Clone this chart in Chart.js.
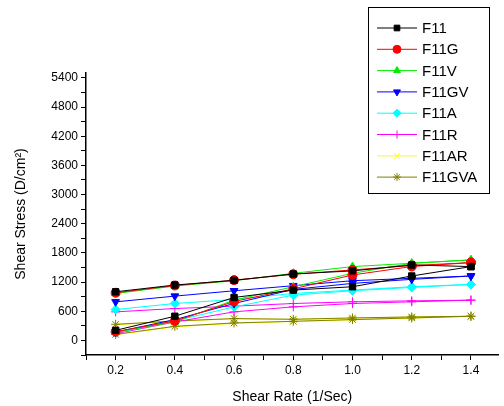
<!DOCTYPE html>
<html>
<head>
<meta charset="utf-8">
<script src="https://cdn.jsdelivr.net/npm/chart.js@4/dist/chart.umd.min.js"></script>
<style>
  html, body { margin: 0; padding: 0; background: #fff; }
  #wrap { width: 504px; height: 406px; }
</style>
</head>
<body>
<div id="wrap"><canvas id="rheo" width="504" height="406"></canvas></div>
<script>
const shearRate = [0.2, 0.4, 0.6, 0.8, 1.0, 1.2, 1.4];
const seriesNames = ["F11", "F11G", "F11V", "F11GV", "F11A", "F11R", "F11AR", "F11GVA"];

// up curve (increasing rate) and down curve (decreasing rate), both listed from 0.2 to 1.4
const f11Up = [207, 497, 883, 1035, 1104, 1325, 1518];
const f11Down = [1000, 1139, 1235, 1366, 1430, 1552, 1518];
const f11gUp = [180, 400, 800, 1060, 1346, 1520, 1600];
const f11gDown = [980, 1130, 1240, 1360, 1450, 1540, 1600];
const f11vUp = [170, 380, 828, 1104, 1380, 1587, 1656];
const f11vDown = [966, 1118, 1228, 1380, 1518, 1587, 1656];
const f11gvUp = [172, 428, 759, 1049, 1173, 1256, 1325];
const f11gvDown = [793, 911, 1021, 1125, 1228, 1277, 1325];
const f11aUp = [152, 400, 690, 932, 1021, 1090, 1152];
const f11aDown = [635, 759, 842, 966, 1035, 1104, 1152];
const f11rUp = [138, 380, 587, 690, 759, 794, 828];
const f11rDown = [587, 656, 704, 759, 794, 814, 828];
const f11arUp = [115, 280, 350, 390, 425, 458, 495];
const f11arDown = [320, 395, 445, 432, 458, 480, 495];
const f11gvaUp = [124, 290, 359, 393, 428, 462, 497];
const f11gvaDown = [331, 400, 449, 435, 462, 483, 497];

const upCurves = [f11Up, f11gUp, f11vUp, f11gvUp, f11aUp, f11rUp, f11arUp, f11gvaUp];
const downCurves = [f11Down, f11gDown, f11vDown, f11gvDown, f11aDown, f11rDown, f11arDown, f11gvaDown];

const colors = ["#000000", "#ff0000", "#00ee00", "#0000ff", "#00ffff", "#ff00ff", "#ffff00", "#808000"];
const styles = ["rect", "circle", "triangle", "triangle", "rectRot", "cross", "crossRot", "star"];
const rotations = [0, 0, 0, 180, 0, 0, 0, 0];

function loop(up, down) {
  const pts = shearRate.map((x, i) => ({ x: x, y: up[i] }));
  for (let i = shearRate.length - 1; i >= 0; i--) pts.push({ x: shearRate[i], y: down[i] });
  return pts;
}

const datasets = seriesNames.map((name, i) => ({
  label: name,
  data: loop(upCurves[i], downCurves[i]),
  borderColor: colors[i],
  backgroundColor: colors[i],
  borderWidth: 1,
  pointStyle: styles[i],
  rotation: rotations[i],
  pointRadius: 4.5,
  pointBorderWidth: 1,
  pointBorderColor: colors[i],
  pointBackgroundColor: colors[i],
  fill: false,
  tension: 0,
  order: name === "F11AR" ? 1 : 0,
}));

// legend box drawn inside the plot, like the original figure
const boxLegend = {
  id: "boxLegend",
  afterDraw(chart) {
    const ctx = chart.ctx;
    ctx.save();
    ctx.fillStyle = "#fff";
    ctx.fillRect(368, 7, 121, 186);
    ctx.strokeStyle = "#000";
    ctx.lineWidth = 1;
    ctx.strokeRect(368.5, 7.5, 121, 186);
    ctx.font = "15px 'Liberation Sans', Arial, sans-serif";
    ctx.textBaseline = "middle";
    seriesNames.forEach((name, i) => {
      const y = 28 + i * 21.3;
      ctx.strokeStyle = colors[i];
      ctx.fillStyle = colors[i];
      ctx.lineWidth = 1;
      ctx.beginPath();
      ctx.moveTo(377, y);
      ctx.lineTo(417, y);
      ctx.stroke();
      Chart.helpers.drawPoint(ctx, { pointStyle: styles[i], radius: 4, rotation: rotations[i], borderWidth: 1 }, 397, y);
      ctx.fillStyle = "#000";
      ctx.fillText(name, 422, y + 1);
    });
    ctx.restore();
  },
};

const tickFont = { family: "'Liberation Sans', Arial, sans-serif", size: 12 };
const titleFont = { family: "'Liberation Sans', Arial, sans-serif", size: 14 };

new Chart(document.getElementById("rheo").getContext("2d"), {
  type: "line",
  data: { datasets: datasets },
  options: {
    responsive: false,
    animation: false,
    layout: { padding: { top: 73, right: 0, left: 0, bottom: 0 } },
    plugins: { legend: { display: false }, tooltip: { enabled: false } },
    scales: {
      x: {
        type: "linear",
        min: 0.1,
        max: 1.493,
        afterFit: (s) => { s.height = 51; },
        grid: { drawOnChartArea: false, drawTicks: true, tickLength: 5, tickColor: "#000" },
        border: { color: "#000", width: 1.5 },
        ticks: {
          stepSize: 0.1,
          includeBounds: false,
          autoSkip: false,
          maxRotation: 0,
          color: "#000",
          font: tickFont,
          padding: 3,
          callback: (v) => {
            const k = Math.round(v * 10);
            return k % 2 === 0 && k >= 2 ? (k / 10).toFixed(1) : "";
          },
        },
        title: { display: true, text: "Shear Rate (1/Sec)", color: "#000", font: titleFont, padding: { top: 11, bottom: 0 } },
      },
      y: {
        min: -300,
        max: 5500,
        afterFit: (s) => { s.width = 86; },
        grid: { drawOnChartArea: false, drawTicks: true, tickLength: 5, tickColor: "#000" },
        border: { color: "#000", width: 1.5 },
        ticks: {
          stepSize: 300,
          includeBounds: false,
          autoSkip: false,
          color: "#000",
          font: tickFont,
          padding: 3,
          callback: (v) => (v % 600 === 0 && v >= 0 ? String(v) : ""),
        },
        title: { display: true, text: "Shear Stress (D/cm\u00B2)", color: "#000", font: titleFont, padding: { top: 13, bottom: 0 } },
      },
    },
  },
  plugins: [boxLegend],
});
</script>
</body>
</html>
